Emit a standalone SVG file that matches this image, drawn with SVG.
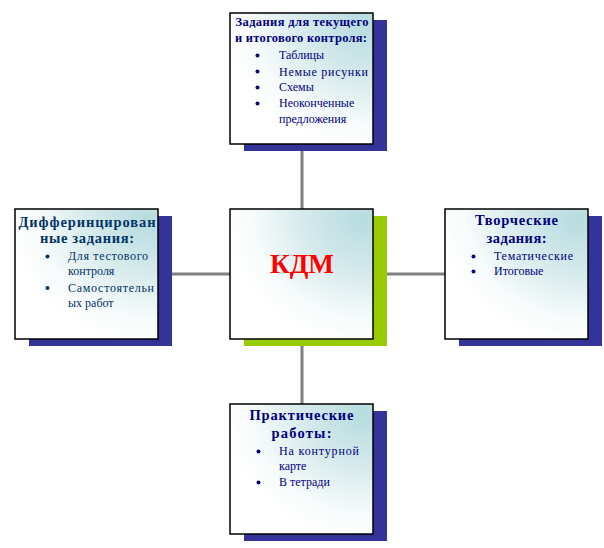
<svg xmlns="http://www.w3.org/2000/svg" width="604" height="548" viewBox="0 0 604 548">
<defs>
<radialGradient id="g" cx="1" cy="0" r="1.05" fx="0.92" fy="0.08">
<stop offset="0" stop-color="#b7dcdf"/>
<stop offset="0.4" stop-color="#d4e9eb"/>
<stop offset="0.8" stop-color="#f7fbfb"/>
<stop offset="1" stop-color="#ffffff"/>
</radialGradient>
<style>
.box{fill:url(#g);stroke:#000;stroke-width:1.5}
.sh{fill:#333399}
.t{font-family:"Liberation Serif","Times New Roman",serif;font-weight:bold;fill:#000080;text-anchor:middle}
.b{font-family:"Liberation Serif","Times New Roman",serif;font-size:12px;fill:#000080}
.d{fill:#000080}
.tl{fill:#003366}
.conn line{stroke:#808080;stroke-width:3}
</style>
</defs>
<rect width="604" height="548" fill="#fff"/>
<g class="conn">
<line x1="302" y1="144" x2="302" y2="209"/>
<line x1="302" y1="339" x2="302" y2="404"/>
<line x1="158" y1="274" x2="230" y2="274"/>
<line x1="373" y1="274" x2="445" y2="274"/>
</g>
<g id="top">
<rect class="sh" x="244" y="20" width="143" height="131"/>
<rect class="box" x="230" y="13" width="143" height="131"/>
<text class="t" x="302" y="26" font-size="12.5" textLength="133" lengthAdjust="spacing">Задания для текущего</text>
<text class="t" x="301" y="42" font-size="12.5" textLength="132" lengthAdjust="spacing">и итогового контроля:</text>
<circle class="d" cx="257.5" cy="55.5" r="2"/>
<circle class="d" cx="257.5" cy="71.5" r="2"/>
<circle class="d" cx="257.5" cy="87.5" r="2"/>
<circle class="d" cx="257.5" cy="103.5" r="2"/>
<text class="b" x="279" y="59">Таблицы</text>
<text class="b" x="279" y="75.5" textLength="89" lengthAdjust="spacing">Немые рисунки</text>
<text class="b" x="279" y="91">Схемы</text>
<text class="b" x="279" y="107">Неоконченные</text>
<text class="b" x="279" y="123">предложения</text>
</g>
<g id="left">
<rect class="sh" x="29" y="216" width="143" height="130"/>
<rect class="box" x="15" y="209" width="143" height="130"/>
<text class="t tl" x="87" y="227" font-size="14.5" textLength="137" lengthAdjust="spacing">Дифферинцирован</text>
<text class="t tl" x="87" y="243" font-size="14.5" textLength="94" lengthAdjust="spacing">ные задания:</text>
<circle class="tl" cx="47.5" cy="256.5" r="2"/>
<circle class="tl" cx="47.5" cy="288" r="2"/>
<text class="b tl" x="68" y="260" textLength="80" lengthAdjust="spacing">Для тестового</text>
<text class="b tl" x="68" y="274.5">контроля</text>
<text class="b tl" x="68" y="292" textLength="86" lengthAdjust="spacing">Самостоятельн</text>
<text class="b tl" x="68" y="306.5">ых работ</text>
</g>
<g id="center">
<rect x="244" y="216" width="143" height="130" fill="#99cc00"/>
<rect class="box" x="230" y="209" width="143" height="130"/>
<text x="302" y="273" font-family="Liberation Serif,Times New Roman,serif" font-weight="bold" font-size="27" fill="#ff0000" text-anchor="middle" textLength="64" lengthAdjust="spacingAndGlyphs">КДМ</text>
</g>
<g id="right">
<rect class="sh" x="459" y="216" width="143" height="130"/>
<rect class="box" x="445" y="209" width="143" height="130"/>
<text class="t" x="516.5" y="225" font-size="14.5" textLength="83" lengthAdjust="spacing">Творческие</text>
<text class="t" x="516.5" y="243" font-size="14.5" textLength="60" lengthAdjust="spacing">задания:</text>
<circle class="d" cx="473.5" cy="256.5" r="2"/>
<circle class="d" cx="473.5" cy="271.5" r="2"/>
<text class="b" x="494" y="260" textLength="79" lengthAdjust="spacing">Тематические</text>
<text class="b" x="494" y="275">Итоговые</text>
</g>
<g id="bottom">
<rect class="sh" x="244" y="411" width="143" height="130"/>
<rect class="box" x="230" y="404" width="143" height="130"/>
<text class="t" x="301.5" y="420" font-size="14.5" textLength="104" lengthAdjust="spacing">Практические</text>
<text class="t" x="301.5" y="438" font-size="14.5" textLength="60" lengthAdjust="spacing">работы:</text>
<circle class="d" cx="258.5" cy="451.5" r="2"/>
<circle class="d" cx="258.5" cy="482.5" r="2"/>
<text class="b" x="279" y="455" textLength="80" lengthAdjust="spacing">На контурной</text>
<text class="b" x="279" y="469.5">карте</text>
<text class="b" x="279" y="486">В тетради</text>
</g>
</svg>
